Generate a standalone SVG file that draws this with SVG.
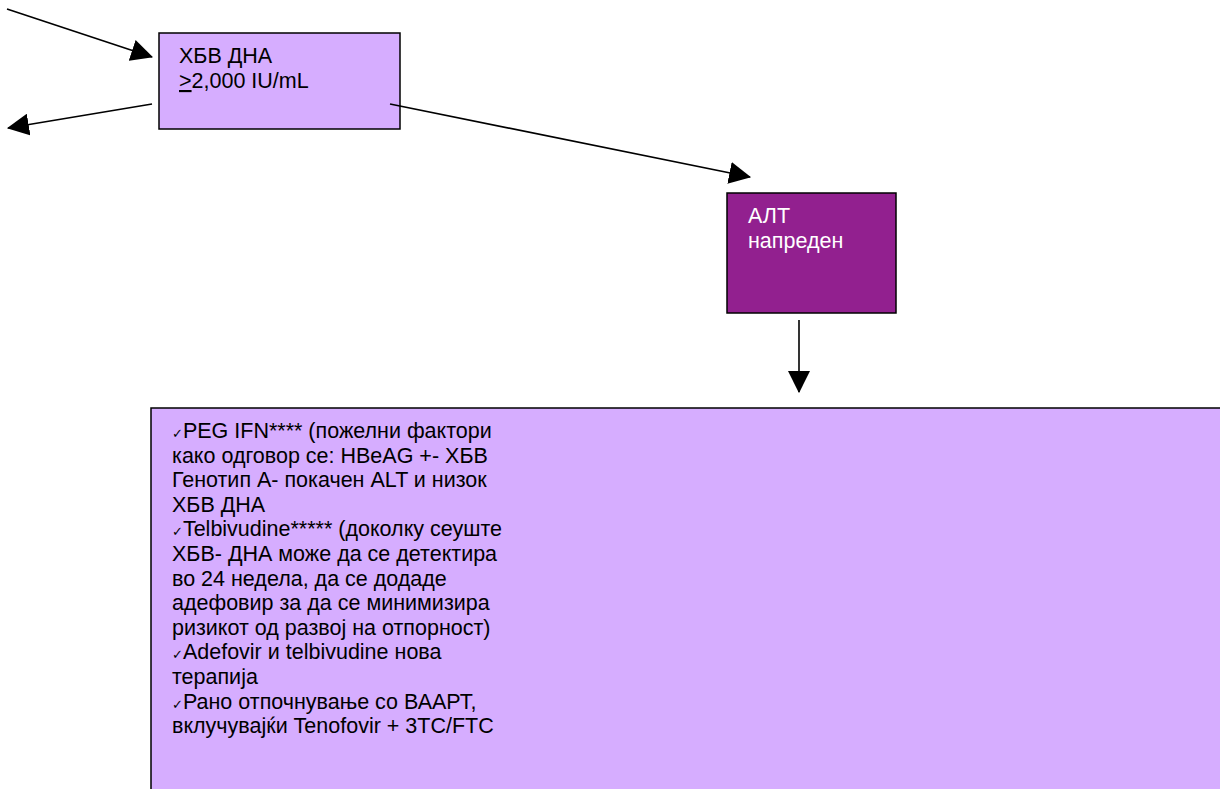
<svg xmlns="http://www.w3.org/2000/svg" width="1220" height="789" viewBox="0 0 1220 789">
<style>
.box{fill:#D6ADFF;stroke:#000;stroke-width:1.5}
.dark{fill:#92208F;stroke:#000;stroke-width:1.5}
.t{font-family:"Liberation Sans",Arial,sans-serif;font-size:21.5px;fill:#000}
.w{fill:#fff}
.ck{font-family:"DejaVu Sans",sans-serif;font-size:13px;font-weight:bold}
.conn line{stroke:#000;stroke-width:1.6;fill:none;marker-end:url(#ah)}
</style>
<defs>
<marker id="ah" markerUnits="userSpaceOnUse" markerWidth="22" markerHeight="22" viewBox="0 0 20 20" refX="19" refY="10" orient="auto">
<path d="M0,0 L20,10 L0,20 Z" fill="#000"/>
</marker>
</defs>
<rect width="1220" height="789" fill="#fff"/>
<g id="node-hbv">
<rect class="box" x="159" y="33" width="241" height="96"/>
<text class="t" x="179" y="63">ХБВ ДНА</text>
<text class="t" x="179" y="88"><tspan text-decoration="underline">&gt;</tspan>2,000 IU/mL</text>
</g>
<g id="node-alt">
<rect class="dark" x="727" y="193" width="169" height="120"/>
<text class="t w" x="748" y="223">АЛТ</text>
<text class="t w" x="748" y="248">напреден</text>
</g>
<g id="node-therapy">
<rect class="box" x="151" y="408" width="1080" height="400"/>
<text class="t" x="172">
<tspan x="172" y="438"><tspan class="ck">✓</tspan>PEG IFN**** (пожелни фактори</tspan>
<tspan x="172" y="462.6">како одговор се: HBeAG +- ХБВ</tspan>
<tspan x="172" y="487.2">Генотип А- покачен ALT и низок</tspan>
<tspan x="172" y="511.8">ХБВ ДНА</tspan>
<tspan x="172" y="536.4"><tspan class="ck">✓</tspan>Telbivudine***** (доколку сеуште</tspan>
<tspan x="172" y="561">ХБВ- ДНА може да се детектира</tspan>
<tspan x="172" y="585.6">во 24 недела, да се додаде</tspan>
<tspan x="172" y="610.2">адефовир за да се минимизира</tspan>
<tspan x="172" y="634.8">ризикот од развој на отпорност)</tspan>
<tspan x="172" y="659.4"><tspan class="ck">✓</tspan>Adefovir и telbivudine нова</tspan>
<tspan x="172" y="684">терапија</tspan>
<tspan x="172" y="708.6"><tspan class="ck">✓</tspan>Рано отпочнување со ВААРТ,</tspan>
<tspan x="172" y="733.2">вклучувајќи Tenofovir + 3TC/FTC</tspan>
</text>
</g>
<g id="connectors" class="conn">
<line x1="7" y1="9" x2="152" y2="57"/>
<line x1="152" y1="104" x2="8" y2="128"/>
<line x1="390" y1="104" x2="750" y2="177"/>
<line x1="799" y1="320" x2="799" y2="392"/>
</g>
</svg>
